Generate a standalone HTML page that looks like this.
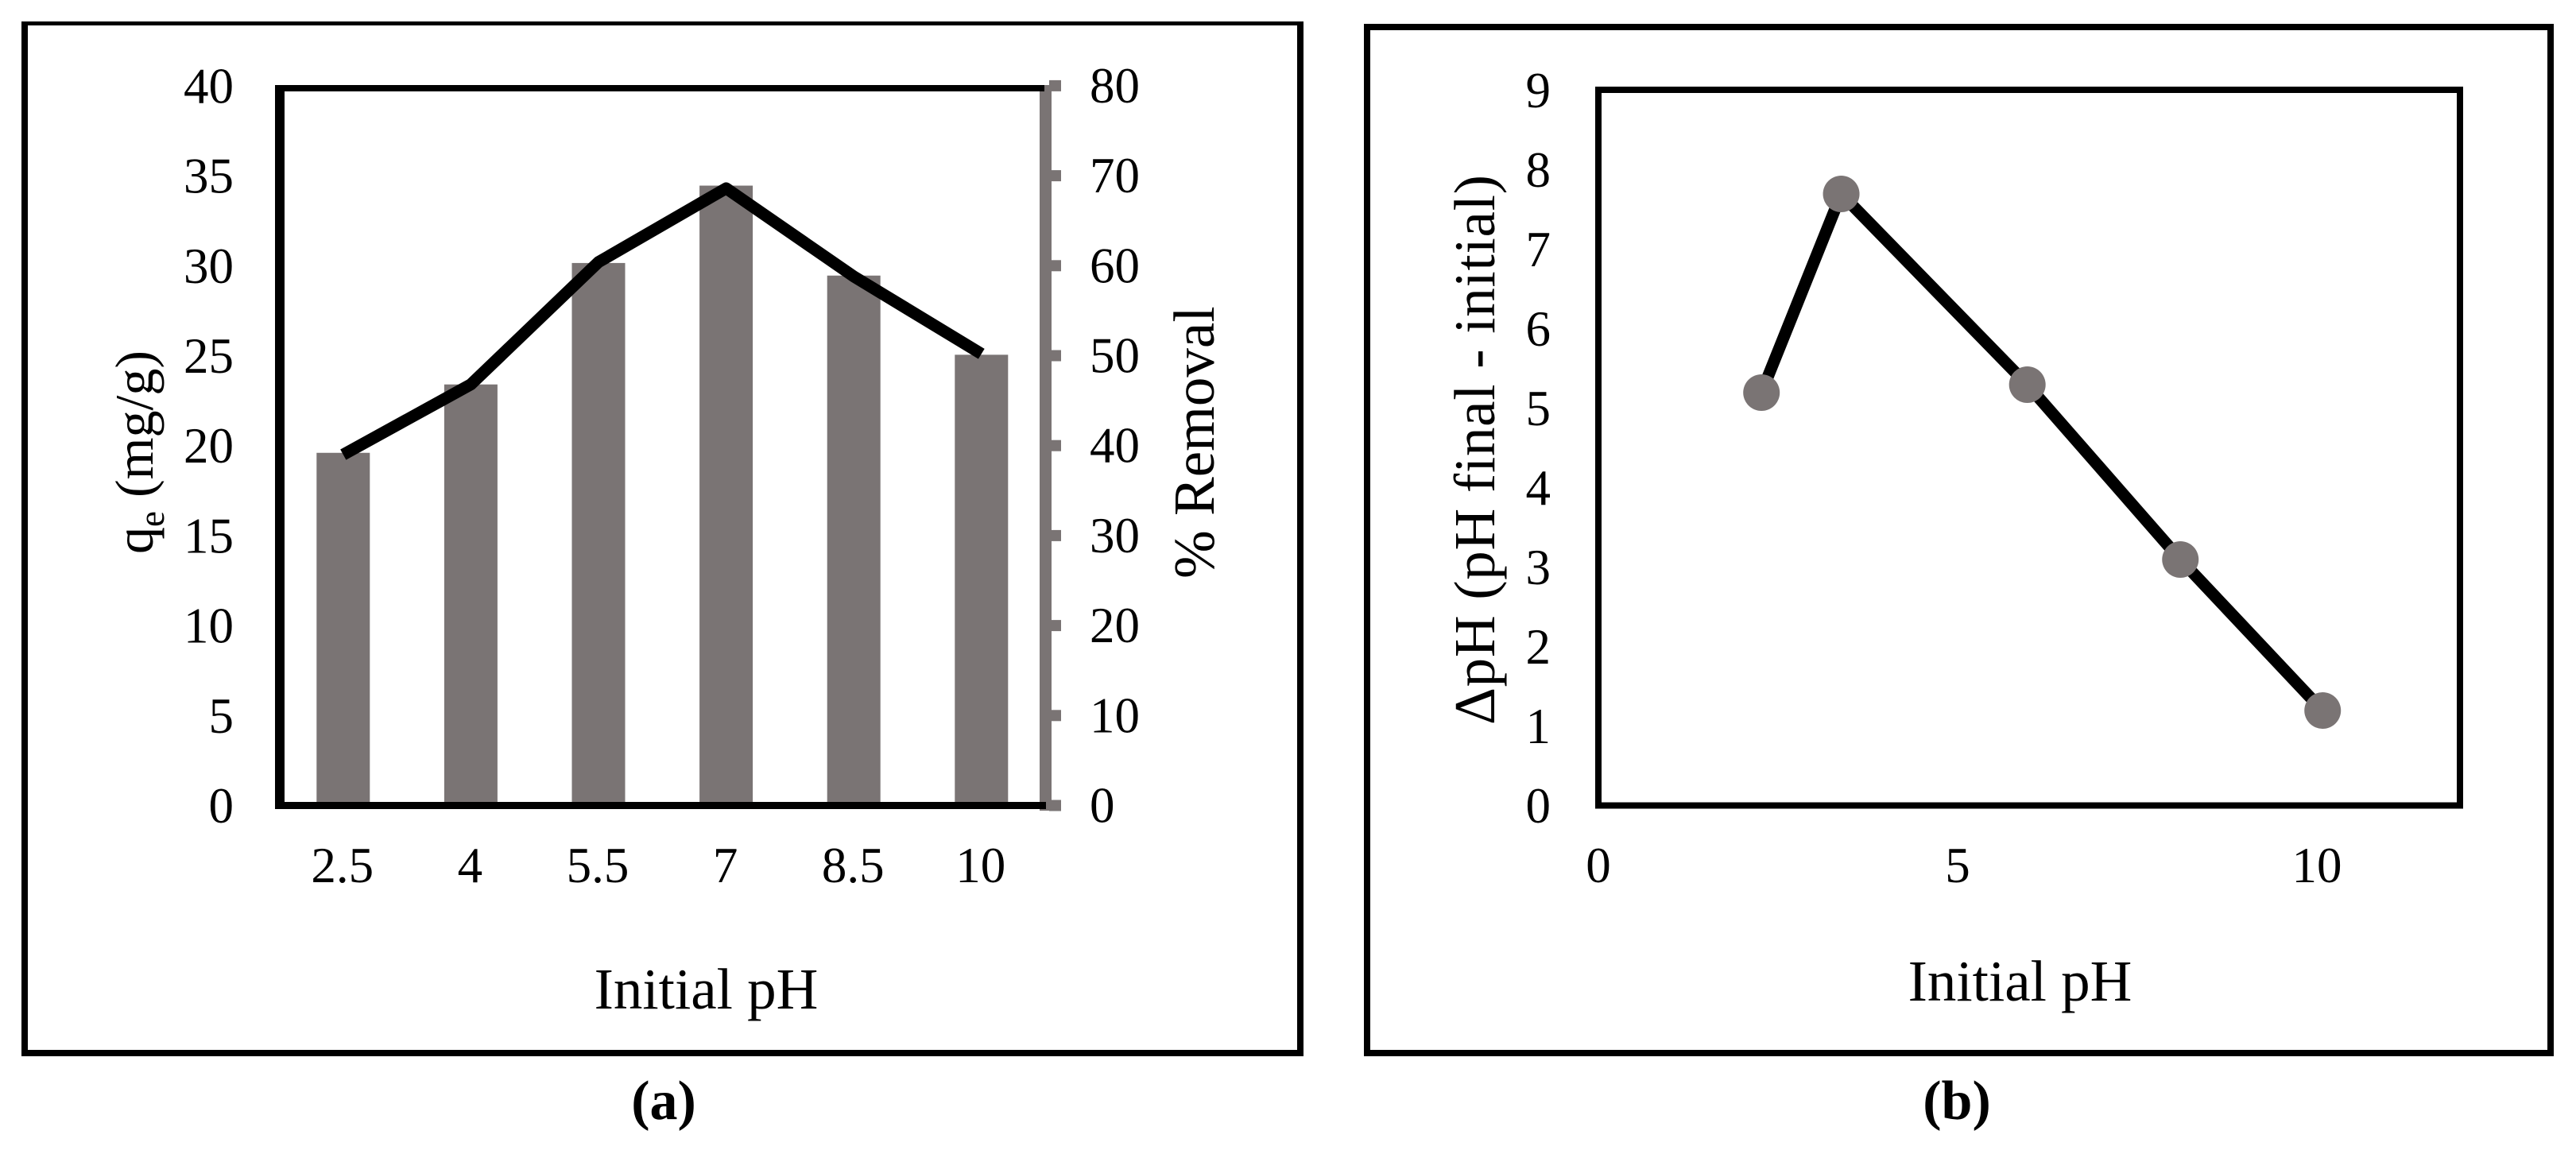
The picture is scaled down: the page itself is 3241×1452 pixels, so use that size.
<!DOCTYPE html>
<html lang="en">
<head>
<meta charset="utf-8">
<title>Effect of initial pH on adsorption</title>
<style>
html,body{margin:0;padding:0;background:#fff;}
body{width:3241px;height:1452px;overflow:hidden;}
svg{display:block;}
text{font-family:"Liberation Serif","DejaVu Serif",serif;fill:#000;}
.tick{font-size:63px;}
.title{font-size:73px;}
.cap{font-size:70px;font-weight:bold;}
</style>
</head>
<body>
<svg id="fig" xmlns="http://www.w3.org/2000/svg" width="3241" height="1452" viewBox="0 0 3241 1452">
  <rect x="0" y="0" width="3241" height="1452" fill="#fff"/>
  <g id="frame-a" fill="#000">
    <rect x="27" y="27" width="8" height="1302"/>
    <rect x="27" y="27" width="1613" height="5"/>
    <rect x="1632" y="27" width="8" height="1302"/>
    <rect x="27" y="1321" width="1613" height="8"/>
  </g>
  <g id="frame-b" fill="#000">
    <rect x="1716" y="30" width="8" height="1299"/>
    <rect x="1716" y="30" width="1497" height="8"/>
    <rect x="3205" y="30" width="8" height="1299"/>
    <rect x="1716" y="1321" width="1497" height="8"/>
  </g>
  <g id="chart-a"></g>
  <g id="chart-b"></g>

  <text class="title" transform="translate(192,697) rotate(-90)" style="font-size:68px">q<tspan dy="14" style="font-size:45px">e</tspan><tspan dy="-14"> (mg/g)</tspan></text>
  <text class="title" transform="translate(1527,728) rotate(-90)">% Removal</text>
  <text class="title" x="888.5" y="1269" text-anchor="middle">Initial pH</text>
  <text class="cap" x="835" y="1408" text-anchor="middle">(a)</text>

  <text class="title" transform="translate(1880,912) rotate(-90)" textLength="692" lengthAdjust="spacing">ΔpH (pH final - initial)</text>
  <text class="title" x="2541.5" y="1259" text-anchor="middle">Initial pH</text>
  <text class="cap" x="2462" y="1408" text-anchor="middle">(b)</text>
</svg>
<script>
// Chart (a) data
var phCategories = ['2.5', '4', '5.5', '7', '8.5', '10'];
var removalPercent = [39.2, 46.8, 60.3, 68.9, 58.9, 50.1];
var qeValues = [19.5, 23.4, 30.2, 34.3, 29.4, 25.1];
var qeTicks = [0, 5, 10, 15, 20, 25, 30, 35, 40];
var removalTicks = [0, 10, 20, 30, 40, 50, 60, 70, 80];

// Chart (b) data
var initialPh = [2.27, 3.38, 5.97, 8.1, 10.08];
var deltaPh = [5.2, 7.7, 5.3, 3.1, 1.2];
var deltaXTicks = [0, 5, 10];
var deltaYTicks = [0, 1, 2, 3, 4, 5, 6, 7, 8, 9];

var SVGNS = 'http://www.w3.org/2000/svg';
var GREY = '#7a7474';

function make(parent, tag, attrs, txt) {
  var el = document.createElementNS(SVGNS, tag);
  for (var k in attrs) { el.setAttribute(k, attrs[k]); }
  if (txt !== undefined) { el.textContent = txt; }
  parent.appendChild(el);
  return el;
}

// ---- Chart (a) axis functions ----
var aBandStart = 351.5, aBandWidth = 160.6, aY0 = 1013.5;
function aX(i) { return aBandStart + aBandWidth * (i + 0.5); }
function yRemoval(v) { return aY0 - v * 11.32; }
function yQe(v) { return aY0 - v * 22.64; }

var chartA = document.getElementById('chart-a');

removalPercent.forEach(function (v, i) {
  var bar = make(chartA, 'rect', { x: aX(i) - 33.5, y: yRemoval(v), width: 67, height: aY0 - yRemoval(v), fill: GREY });
  
  
});

var rightAxis = make(chartA, 'rect', { x: 1308, y: 107, width: 15, height: 913, fill: GREY });



removalTicks.forEach(function (v) {
  var t = make(chartA, 'rect', { x: 1320, y: yRemoval(v) - 7, width: 15, height: 14, fill: GREY });
  
  
  var l = make(chartA, 'text', { 'class': 'tick', x: 1371, y: yRemoval(v) + 21 }, String(v));
  
  
});

var aLeft = make(chartA, 'rect', { x: 346, y: 107, width: 12, height: 911, fill: '#000' });


var aTop = make(chartA, 'rect', { x: 346, y: 107, width: 968, height: 8, fill: '#000' });


var aBottom = make(chartA, 'rect', { x: 346, y: 1009, width: 970, height: 9, fill: '#000' });



qeTicks.forEach(function (v) {
  var l = make(chartA, 'text', { 'class': 'tick', x: 294, y: yQe(v) + 21.5, 'text-anchor': 'end' }, String(v));
  
  
});

phCategories.forEach(function (c, i) {
  var l = make(chartA, 'text', { 'class': 'tick', x: aX(i) - 1, y: 1110, 'text-anchor': 'middle' }, c);
  
  
});

var qePoints = qeValues.map(function (v, i) { return aX(i) + ',' + yQe(v); }).join(' ');
var qeLine = make(chartA, 'polyline', { points: qePoints, fill: 'none', stroke: '#000', 'stroke-width': 15, 'stroke-linejoin': 'round' });



// ---- Chart (b) axis functions ----
function bX(v) { return 2011 + v * 90.4; }
function bY(v) { return 1014 - v * 100; }

var chartB = document.getElementById('chart-b');

var bPlot = make(chartB, 'rect', { x: 2011, y: 113, width: 3095 - 2011, height: 1013.5 - 113, fill: 'none', stroke: '#000', 'stroke-width': 8 });



deltaYTicks.forEach(function (v) {
  var l = make(chartB, 'text', { 'class': 'tick', x: 1951, y: bY(v) + 21, 'text-anchor': 'end' }, String(v));
  
  
});

deltaXTicks.forEach(function (v) {
  var l = make(chartB, 'text', { 'class': 'tick', x: bX(v), y: 1110, 'text-anchor': 'middle' }, String(v));
  
  
});

var deltaPoints = initialPh.map(function (x, i) { return bX(x) + ',' + bY(deltaPh[i]); }).join(' ');
var deltaLine = make(chartB, 'polyline', { points: deltaPoints, fill: 'none', stroke: '#000', 'stroke-width': 15, 'stroke-linejoin': 'round' });



initialPh.forEach(function (x, i) {
  var m = make(chartB, 'circle', { cx: bX(x), cy: bY(deltaPh[i]), r: 23, fill: GREY });
  
  
});
</script>
</body>
</html>
